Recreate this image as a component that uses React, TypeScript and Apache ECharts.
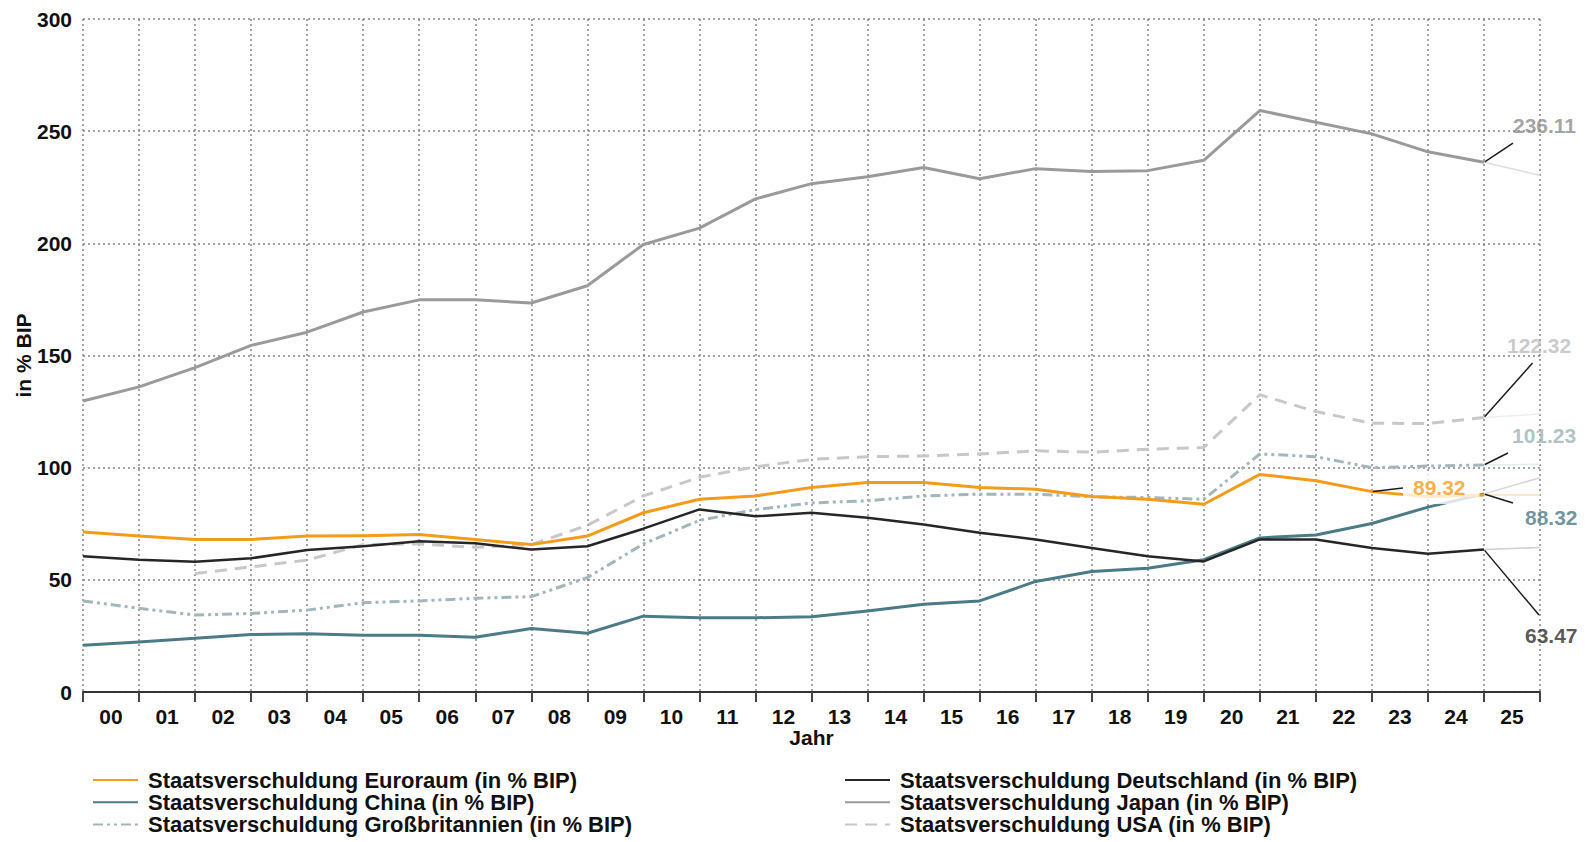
import { useEffect, useRef } from 'react';
import * as echarts from 'echarts';

// Jahre 2000–2025 (zweistellig)
const years = ['00', '01', '02', '03', '04', '05', '06', '07', '08', '09', '10', '11', '12',
  '13', '14', '15', '16', '17', '18', '19', '20', '21', '22', '23', '24', '25'];

// Staatsverschuldung in % des BIP
const euroraum = [71.3, 69.5, 68.0, 68.0, 69.5, 69.6, 70.2, 68.0, 65.7, 69.5, 79.9, 85.9, 87.4,
  91.2, 93.4, 93.4, 91.2, 90.4, 87.1, 85.9, 83.7, 97.0, 94.2, 89.32, 87.0, 87.8];
const deutschland = [60.5, 59.0, 58.1, 59.6, 63.3, 65.0, 67.2, 66.3, 63.5, 65.0, 72.8, 81.4, 78.3,
  79.9, 77.7, 74.7, 71.0, 68.0, 64.2, 60.5, 58.2, 68.0, 68.0, 64.2, 61.6, 63.47];
const china = [20.8, 22.3, 24.0, 25.6, 26.0, 25.3, 25.3, 24.4, 28.3, 26.2, 33.8, 33.1, 33.1,
  33.5, 36.1, 39.1, 40.6, 49.3, 53.7, 55.2, 59.0, 68.7, 70.0, 75.1, 82.4, 88.32];
const japan = [129.7, 136.0, 144.6, 154.5, 160.4, 169.4, 174.8, 174.8, 173.4, 181.1, 199.5, 206.8, 219.8,
  226.6, 229.7, 233.8, 228.8, 233.3, 232.0, 232.4, 237.0, 259.2, 254.0, 248.8, 240.8, 236.11];
const grossbritannien = [40.6, 37.3, 34.3, 35.0, 36.5, 39.8, 40.6, 41.8, 42.5, 51.0, 66.0, 76.5, 81.3,
  84.3, 85.2, 87.4, 88.2, 88.2, 87.0, 86.7, 85.9, 106.1, 104.9, 100.0, 100.7, 101.23];
const usa = [null, null, 52.8, 55.8, 58.8, 65.7, 66.0, 64.5, 65.7, 74.3, 87.4, 95.7, 100.4,
  103.7, 104.9, 105.2, 106.1, 107.5, 106.9, 108.2, 109.0, 132.5, 125.0, 119.8, 119.7, 122.32];

// Ausblick bis zum rechten Rand
const ausblickJapan = 230.3;
const ausblickUsa = 123.9;
const ausblickGb = 101.5;
const ausblickEuro = 87.8;
const ausblickChina = 95.5;
const ausblickDeutschland = 64.4;

const yTicks = { min: 0, max: 300, step: 50 };

const NAME_EURO = 'Staatsverschuldung Euroraum (in % BIP)';
const NAME_CHINA = 'Staatsverschuldung China (in % BIP)';
const NAME_GB = 'Staatsverschuldung Großbritannien (in % BIP)';
const NAME_DE = 'Staatsverschuldung Deutschland (in % BIP)';
const NAME_JP = 'Staatsverschuldung Japan (in % BIP)';
const NAME_USA = 'Staatsverschuldung USA (in % BIP)';

const FONT = "'Liberation Sans', Arial, Helvetica, sans-serif";

const C_EURO = '#f39c1b';
const C_CHINA = '#4b7b86';
const C_DE = '#262626';
const C_JP = '#9a9a9a';
const C_GB = '#a3b7bb';
const C_USA = '#c8c8c8';

const pairs = (values: (number | null)[]) => values.map((v, i) => [i, v]);
const last = years.length - 1;
const edge = years.length;

function lineSeries(name: string, values: (number | null)[], color: string, width: number, type: any, z: number) {
  return {
    type: 'line',
    name,
    xAxisIndex: 1,
    data: pairs(values),
    symbol: 'none',
    showSymbol: false,
    silent: true,
    z,
    lineStyle: { color, width, type, cap: 'butt', join: 'round' },
    itemStyle: { color },
  };
}

function outlookSeries(name: string, values: number[], target: number, color: string) {
  return {
    type: 'line',
    name,
    xAxisIndex: 1,
    data: [[last, values[last]], [edge, target]],
    symbol: 'none',
    showSymbol: false,
    silent: true,
    z: 1,
    lineStyle: { color, width: 1.5 },
  };
}

// Wertbeschriftung mit Führungslinie; padding legt den Ansatzpunkt der Linie fest
function valueLabel(name: string, values: (number | null)[], idx: number, color: string,
  padding: number[], dx: number, dy: number, backgroundColor?: string) {
  return {
    type: 'scatter',
    name,
    xAxisIndex: 1,
    data: [[idx, values[idx]]],
    symbol: 'circle',
    symbolSize: 2,
    silent: true,
    z: 6,
    itemStyle: { color: 'rgba(0,0,0,0)' },
    label: {
      show: true,
      position: 'right',
      distance: 0,
      align: 'left',
      verticalAlign: 'top',
      formatter: (p: any) => Number(p.value[1]).toFixed(2),
      color,
      fontFamily: FONT,
      fontSize: 21,
      fontWeight: 'bold',
      lineHeight: 21,
      padding,
      backgroundColor: backgroundColor || 'rgba(255,255,255,0)',
    },
    labelLine: { show: true, lineStyle: { color: '#1c1c1c', width: 1.5 } },
    labelLayout: { dx, dy },
  };
}

const gridDots = { color: '#858585', width: 1.5, type: [2, 3] };

export default function App() {
  const ref = useRef<HTMLDivElement>(null);

  useEffect(() => {
    if (!ref.current) return;
    const chart = echarts.init(ref.current, null, { renderer: 'svg' });

    const legendBase = {
      orient: 'vertical',
      top: 769,
      itemWidth: 45,
      itemHeight: 14,
      itemGap: 0.25,
      padding: 0,
      selectedMode: false,
      itemStyle: { opacity: 0 },
      textStyle: {
        fontFamily: FONT,
        fontSize: 22,
        fontWeight: 'bold',
        color: '#111',
        lineHeight: 22,
        padding: [0, 0, 0, 5],
      },
    };

    chart.setOption({
      animation: false,
      backgroundColor: '#ffffff',
      textStyle: { fontFamily: FONT },
      grid: { left: 83, right: 45, top: 19, bottom: 150, outerBoundsMode: 'none' },
      legend: [
        { ...legendBase, left: 92, data: [NAME_EURO, NAME_CHINA, NAME_GB] },
        { ...legendBase, left: 844, data: [NAME_DE, NAME_JP, NAME_USA] },
      ],
      xAxis: [
        {
          type: 'category',
          data: years,
          boundaryGap: true,
          name: 'Jahr',
          nameLocation: 'middle',
          nameGap: 35,
          nameMoveOverlap: false,
          nameTextStyle: { fontFamily: FONT, fontSize: 21, fontWeight: 'bold', color: '#111' },
          axisLine: { show: true, lineStyle: { color: '#333', width: 2, type: [4, 1] } },
          axisTick: { show: true, interval: 0, length: 10, lineStyle: { color: '#444', width: 2 } },
          axisLabel: { interval: 0, margin: 14, color: '#111', fontFamily: FONT, fontSize: 21, fontWeight: 'bold' },
          splitLine: { show: true, interval: 0, lineStyle: gridDots },
        },
        { type: 'value', min: 0, max: edge, show: false },
      ],
      yAxis: {
        type: 'value',
        min: yTicks.min,
        max: yTicks.max,
        interval: yTicks.step,
        name: 'in % BIP',
        nameLocation: 'middle',
        nameRotate: 90,
        nameGap: 49,
        nameMoveOverlap: false,
        nameTextStyle: { fontFamily: FONT, fontSize: 21, fontWeight: 'bold', color: '#111' },
        axisLine: { show: false },
        axisTick: { show: false },
        axisLabel: { margin: 11, color: '#111', fontFamily: FONT, fontSize: 21, fontWeight: 'bold' },
        splitLine: { show: true, lineStyle: gridDots },
      },
      series: [
        outlookSeries('Ausblick Japan', japan, ausblickJapan, '#dddddd'),
        outlookSeries('Ausblick USA', usa as number[], ausblickUsa, '#eeeeee'),
        outlookSeries('Ausblick Großbritannien', grossbritannien, ausblickGb, '#e6ecee'),
        outlookSeries('Ausblick Euroraum', euroraum, ausblickEuro, '#fbe0b8'),
        outlookSeries('Ausblick China', china, ausblickChina, '#d6d6d6'),
        outlookSeries('Ausblick Deutschland', deutschland, ausblickDeutschland, '#d0d0d0'),
        lineSeries(NAME_USA, usa, C_USA, 3, [12, 8], 2),
        lineSeries(NAME_GB, grossbritannien, C_GB, 3, [10, 4, 3, 4, 3, 4], 2),
        lineSeries(NAME_JP, japan, C_JP, 3, 'solid', 2),
        lineSeries(NAME_CHINA, china, C_CHINA, 3, 'solid', 3),
        lineSeries(NAME_EURO, euroraum, C_EURO, 3, 'solid', 3),
        lineSeries(NAME_DE, deutschland, C_DE, 2.5, 'solid', 3),
        valueLabel('Wert Japan', japan, last, '#8c8c8c', [0, 0, 35, 0], 28, -47.3),
        valueLabel('Wert USA', usa, last, '#bdbdbd', [35, 0, 7, 13], 9, -117.6),
        valueLabel('Wert Großbritannien', grossbritannien, last, '#9db3b5', [0, 0, 35, 4], 23, -39.9),
        valueLabel('Wert Euroraum', euroraum, 23, C_EURO, [5, 14, 6, 10], 30.1, -19.6, '#ffffff'),
        valueLabel('Wert China', china, last, C_CHINA, [29, 0, 0, 12], 28, -15.9),
        valueLabel('Wert Deutschland', deutschland, last, '#2e2e2e', [9.5, 0, 54.5, 24.5], 15.5, 65.4),
      ],
    });

    return () => chart.dispose();
  }, []);

  return (
    <div
      ref={ref}
      style={{ position: 'fixed', left: 0, top: 0, width: 1585, height: 842, background: '#fff' }}
    />
  );
}
